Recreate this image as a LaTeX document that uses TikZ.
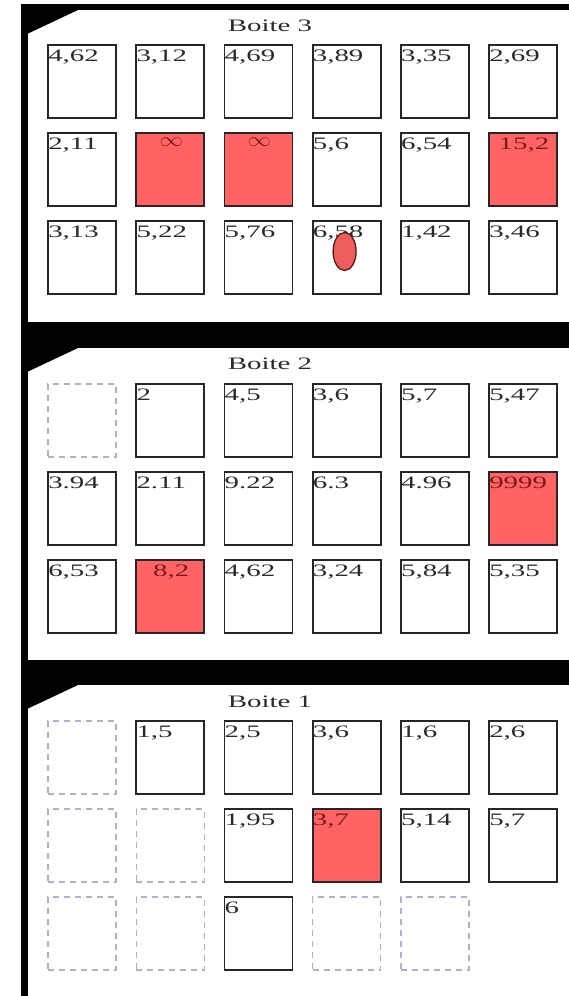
\documentclass[tikz,border=0pt]{standalone}
\usepackage{fontspec}
\usepackage{graphicx}
\usepackage{tikz}
\usetikzlibrary{calc,shapes.geometric}
\newfontfamily\cellfont{Liberation Serif}[FakeStretch=1.65]
\definecolor{CellLine}{HTML}{262626}
\definecolor{NumGray}{HTML}{2A2A2A}
\definecolor{BoiteRed}{HTML}{FF6363}
\definecolor{HotText}{HTML}{7A1C1C}
\definecolor{VideLine}{HTML}{B9ABD0}
\definecolor{BulleFill}{HTML}{EC5E5E}
\definecolor{BulleLine}{HTML}{5A1515}
\newcommand{\infini}{\raisebox{-3pt}{\scalebox{1.35}[1.15]{$\infty$}}}

\begin{document}
\begin{tikzpicture}[x=1pt,y=-1pt]
  \tikzset{
    cell/.style={draw=CellLine, line width=1.8pt, minimum width=68pt, minimum height=73pt, inner sep=0pt, fill=white},
    num/.style={font=\fontsize{17.5}{20}\cellfont, text=NumGray, inner sep=0pt, anchor=north west, xshift=1pt, yshift=-6pt},
    plain/.style={cell, label={[num]north west:#1}},
    hot/.style={cell, fill=BoiteRed, label={[num, anchor=north, xshift=0pt, text=HotText]north:#1}},
    hotleft/.style={cell, fill=BoiteRed, label={[num, text=HotText]north west:#1}},
    vide/.style={cell, draw=VideLine, line width=1.4pt, dash pattern=on 6pt off 5pt},
    titre/.style={font=\fontsize{17.5}{20}\cellfont, text=NumGray, inner sep=0pt},
    bulle/.style={ellipse, fill=BulleFill, draw=BulleLine, line width=1.3pt, minimum width=23pt, minimum height=38pt, inner sep=0pt}
  }
  \fill[white] (0,0) rectangle (569,996);
  \useasboundingbox (0,0) rectangle (569,996);

  % cadre noir
  \fill[black] (21,4) rectangle (28,996);
  \fill[black] (21,4) rectangle (569,10);
  \fill[black] (21,322) rectangle (569,348);
  \fill[black] (21,660) rectangle (569,685);
  \foreach \B in {10,348,685}
    \fill[black] (27,\B) -- (78,\B) -- (27,\B+24) -- cycle;

  % Boite 3
  \node[titre] (t3) at (270,26) {Boite 3};
  \foreach \r/\row in {
      1/{plain/{4,62}, plain/{3,12}, plain/{4,69}, plain/{3,89}, plain/{3,35}, plain/{2,69}},
      2/{plain/{2,11}, hot/{\infini}, hot/{\infini}, plain/{5,6}, plain/{6,54}, hot/{15,2}},
      3/{plain/{3,13}, plain/{5,22}, plain/{5,76}, plain/{6,58}, plain/{1,42}, plain/{3,46}}}
    \foreach \k/\t [count=\c] in \row
      \node[\k={\t}] (b3-\r-\c) at ({82+88.2*(\c-1)},{81.5+88*(\r-1)}) {};
  \node[bulle, yshift=6pt, xshift=-2pt] (e) at (b3-3-4) {};

  % Boite 2
  \node[titre] (t2) at (270,364) {Boite 2};
  \foreach \r/\row in {
      1/{vide/{}, plain/{2}, plain/{4,5}, plain/{3,6}, plain/{5,7}, plain/{5,47}},
      2/{plain/{3.94}, plain/{2.11}, plain/{9.22}, plain/{6.3}, plain/{4.96}, hotleft/{9999}},
      3/{plain/{6,53}, hot/{8,2}, plain/{4,62}, plain/{3,24}, plain/{5,84}, plain/{5,35}}}
    \foreach \k/\t [count=\c] in \row
      \node[\k={\t}] (b2-\r-\c) at ({82+88.2*(\c-1)},{420.5+88*(\r-1)}) {};

  % Boite 1
  \node[titre] (t1) at (270,702) {Boite 1};
  \foreach \r/\row in {
      1/{vide/{}, plain/{1,5}, plain/{2,5}, plain/{3,6}, plain/{1,6}, plain/{2,6}},
      2/{vide/{}, vide/{}, plain/{1,95}, hotleft/{3,7}, plain/{5,14}, plain/{5,7}},
      3/{vide/{}, vide/{}, plain/{6}, vide/{}, vide/{}}}
    \foreach \k/\t [count=\c] in \row
      \node[\k={\t}] (b1-\r-\c) at ({82+88.2*(\c-1)},{757.5+88*(\r-1)}) {};
\end{tikzpicture}
\end{document}
